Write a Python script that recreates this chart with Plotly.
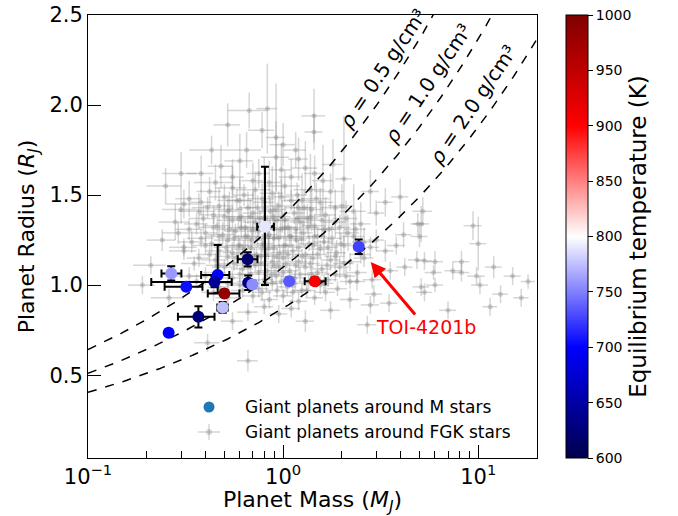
import numpy as np
import plotly.graph_objects as go

# ---------------- data ----------------
# Giant planets around M dwarfs (coloured by equilibrium temperature)
ms_mass = [0.267, 0.319, 0.462, 0.445, 0.50, 0.49, 0.368, 0.259, 0.658, 0.662, 0.696, 0.807, 1.074, 1.452, 2.44]
ms_radius = [1.065, 0.991, 1.056, 1.018, 0.954, 0.876, 0.824, 0.735, 1.143, 1.013, 1.004, 1.324, 1.022, 1.022, 1.213]
ms_mass_lo = [0.029, 0.072, 0.082, 0.234, 0.089, 0.03, 0.079, 0.01, 0.073, 0.02, 0.02, 0.071, 0.03, 0.162, 0.05]
ms_mass_hi = [0.034, 0.067, 0.068, 0.10, 0.097, 0.03, 0.077, 0.01, 0.081, 0.02, 0.02, 0.09, 0.03, 0.198, 0.05]
ms_radius_lo = [0.04, 0.02, 0.10, 0.03, 0.02, 0.03, 0.059, 0.01, 0.04, 0.04, 0.02, 0.324, 0.02, 0.02, 0.04]
ms_radius_hi = [0.04, 0.02, 0.167, 0.03, 0.02, 0.03, 0.059, 0.01, 0.04, 0.04, 0.02, 0.333, 0.02, 0.02, 0.04]
ms_teq = [760, 705, 700, 640, 985, 775, 625, 700, 620, 630, 755, 790, 735, 905, 725]

# Giant planets around FGK stars
fgk_mass = [
    0.42, 0.55, 0.63, 0.72, 0.88, 1.02, 1.18, 1.38, 1.75,
    0.38, 0.47, 0.58, 0.66, 0.80, 0.95, 1.10, 1.28, 1.55, 2.0,
    0.44, 0.52, 0.61, 0.70, 0.76, 0.86, 0.99, 1.14, 1.33, 1.65, 2.3,
    0.36, 0.46, 0.55, 0.64, 0.72, 0.83, 0.93, 1.06, 1.22, 1.45, 1.85, 2.5,
    0.40, 0.49, 0.57, 0.66, 0.75, 0.85, 0.97, 1.10, 1.27, 1.50, 1.72, 2.15,
    0.34, 0.43, 0.52, 0.60, 0.69, 0.79, 0.90, 1.03, 1.17, 1.36, 1.62, 1.98, 2.6,
    0.47, 0.55, 0.63, 0.73, 0.84, 0.96, 1.12, 1.30, 1.55, 1.88,
    0.37, 0.45, 0.58, 0.67, 0.77, 0.88, 1.00, 1.20, 1.42, 1.75, 2.2,
    0.50, 0.62, 0.72, 0.83, 0.95, 1.08, 1.30, 1.58, 1.95,
    0.40, 0.55, 0.68, 0.80, 0.92, 1.15, 1.40, 1.70, 2.1,
    0.47, 0.60, 0.75, 0.88, 1.05, 1.25, 1.55, 1.90,
    0.52, 0.70, 0.85, 1.00, 1.20, 1.45, 2.2,
    0.66, 0.95, 1.30, 0.80, 1.10, 1.75, 0.41, 0.66, 2.7, 0.55,
    0.83, 0.67, 0.52, 1.44, 1.44, 0.43, 0.65, 0.92, 1.16, 2.05, 0.45,
    0.60, 0.92, 1.30, 1.10, 0.75, 0.55, 0.85, 1.60, 0.38, 1.0, 0.78,
    3.98, 5.2, 5.1, 3.34, 3.0, 2.8,
    0.31, 0.37, 0.29, 0.31, 0.21, 0.24, 0.19, 0.26, 0.28, 0.33, 0.25, 0.30,
    9.4, 10.0, 8.2, 8.2, 7.4, 9.8, 10.2, 6.0, 4.85, 5.3, 5.9, 6.0,
    5.1, 5.3, 7.0, 4.14, 5.0, 4.9, 4.2, 3.54, 3.34, 2.86, 2.92, 3.49,
    2.39, 2.8, 16.6, 13.0, 12.0, 15.0, 18.0, 11.5, 3.0, 3.8, 2.6,
    0.33, 0.50, 0.60, 0.78, 0.98, 1.25, 1.48,
    0.30, 0.41, 0.53, 0.74, 0.91, 1.20, 1.40, 1.85,
    0.39, 0.50, 0.59, 0.68, 0.80, 0.89, 1.02, 1.18, 1.38, 1.58, 2.1,
    0.33, 0.44, 0.53, 0.61, 0.70, 0.80, 0.90, 1.02, 1.16, 1.35, 1.62, 1.95, 2.35,
    0.38, 0.47, 0.56, 0.64, 0.74, 0.84, 0.95, 1.08, 1.24, 1.45, 1.78, 2.3,
    0.31, 0.40, 0.51, 0.59, 0.68, 0.78, 0.89, 1.01, 1.20, 1.42, 1.70, 2.05, 2.8,
    0.42, 0.52, 0.62, 0.71, 0.82, 0.93, 1.06, 1.25, 1.50, 1.85, 2.5,
    0.35, 0.47, 0.56, 0.66, 0.77, 0.90, 1.03, 1.16, 1.38, 1.68, 2.05,
    0.45, 0.60, 0.75, 0.87, 1.00, 1.22, 1.50, 1.85, 2.4,
    0.36, 0.52, 0.66, 0.82, 0.98, 1.15, 1.35, 1.62, 2.2,
    0.44, 0.62, 0.78, 0.93, 1.12, 1.32, 1.65,
    0.48, 0.70, 0.98, 1.20, 1.45, 1.80,
]
fgk_radius = [
    1.52, 1.54, 1.50, 1.53, 1.51, 1.55, 1.50, 1.53, 1.52,
    1.46, 1.44, 1.47, 1.43, 1.46, 1.44, 1.47, 1.43, 1.46, 1.44,
    1.39, 1.41, 1.38, 1.40, 1.37, 1.41, 1.38, 1.40, 1.37, 1.39, 1.41,
    1.34, 1.33, 1.36, 1.32, 1.35, 1.33, 1.36, 1.32, 1.35, 1.33, 1.35, 1.34,
    1.29, 1.28, 1.30, 1.27, 1.30, 1.28, 1.31, 1.27, 1.29, 1.27, 1.31, 1.29,
    1.24, 1.23, 1.25, 1.22, 1.25, 1.23, 1.26, 1.22, 1.25, 1.23, 1.24, 1.23, 1.24,
    1.19, 1.18, 1.20, 1.17, 1.20, 1.18, 1.19, 1.17, 1.20, 1.18,
    1.15, 1.14, 1.15, 1.13, 1.16, 1.13, 1.15, 1.13, 1.15, 1.14, 1.13,
    1.10, 1.09, 1.11, 1.08, 1.10, 1.08, 1.10, 1.09, 1.10,
    1.05, 1.04, 1.06, 1.03, 1.05, 1.04, 1.06, 1.03, 1.05,
    0.99, 1.00, 0.98, 1.01, 0.99, 0.97, 1.00, 0.98,
    0.93, 0.94, 0.92, 0.94, 0.91, 0.93, 0.92,
    0.85, 0.84, 0.80, 0.88, 0.87, 0.86, 0.68, 0.58, 0.78, 0.80,
    1.98, 1.97, 1.89, 1.94, 1.85, 1.75, 1.75, 1.82, 1.75, 1.59, 1.57,
    1.69, 1.71, 1.65, 1.60, 1.62, 1.60, 1.57, 1.58, 1.62, 1.78, 1.86,
    1.49, 1.41, 1.34, 1.46, 1.40, 1.52,
    1.45, 1.41, 1.29, 1.19, 1.11, 1.25, 1.00, 0.93, 1.35, 1.05, 1.55, 1.62,
    1.33, 1.23, 1.13, 1.07, 1.08, 1.05, 1.00, 1.13, 1.14, 1.135, 1.07, 1.00,
    0.99, 0.96, 0.86, 1.28, 1.27, 1.34, 1.10, 1.08, 1.19, 1.03, 0.95, 0.90,
    1.02, 0.89, 0.93, 0.95, 1.10, 1.05, 1.02, 0.88, 1.25, 1.22, 1.15,
    1.48, 1.49, 1.47, 1.48, 1.49, 1.47, 1.48,
    1.42, 1.43, 1.42, 1.43, 1.42, 1.43, 1.42, 1.43,
    1.37, 1.38, 1.37, 1.38, 1.37, 1.38, 1.36, 1.37, 1.38, 1.36, 1.37,
    1.31, 1.32, 1.31, 1.32, 1.31, 1.32, 1.31, 1.32, 1.31, 1.32, 1.31, 1.32, 1.31,
    1.26, 1.27, 1.26, 1.27, 1.26, 1.27, 1.26, 1.27, 1.26, 1.27, 1.26, 1.27,
    1.21, 1.22, 1.21, 1.22, 1.21, 1.22, 1.21, 1.22, 1.21, 1.22, 1.21, 1.22, 1.21,
    1.17, 1.16, 1.17, 1.16, 1.17, 1.16, 1.17, 1.16, 1.17, 1.16, 1.17,
    1.12, 1.11, 1.12, 1.11, 1.12, 1.11, 1.12, 1.11, 1.12, 1.11, 1.12,
    1.07, 1.06, 1.07, 1.06, 1.07, 1.06, 1.07, 1.06, 1.07,
    1.02, 1.01, 1.02, 1.01, 1.02, 1.01, 1.02, 1.01, 1.02,
    0.96, 0.97, 0.96, 0.97, 0.96, 0.97, 0.96,
    1.66, 1.58, 1.64, 1.70, 1.62, 1.67,
]
fgk_mass_err = [
    0.06, 0.10, 0.08, 0.15, 0.12, 0.20, 0.15, 0.25, 0.30,
    0.05, 0.08, 0.12, 0.07, 0.10, 0.18, 0.12, 0.20, 0.25, 0.30,
    0.07, 0.06, 0.10, 0.08, 0.09, 0.12, 0.10, 0.15, 0.18, 0.22, 0.35,
    0.05, 0.07, 0.09, 0.06, 0.10, 0.08, 0.12, 0.10, 0.14, 0.20, 0.25, 0.30,
    0.06, 0.08, 0.07, 0.09, 0.10, 0.08, 0.11, 0.13, 0.15, 0.18, 0.22, 0.30,
    0.05, 0.06, 0.08, 0.07, 0.09, 0.10, 0.08, 0.12, 0.14, 0.16, 0.20, 0.25, 0.35,
    0.07, 0.06, 0.09, 0.08, 0.10, 0.11, 0.13, 0.15, 0.18, 0.22,
    0.05, 0.07, 0.08, 0.07, 0.09, 0.10, 0.12, 0.13, 0.16, 0.20, 0.28,
    0.07, 0.08, 0.09, 0.10, 0.11, 0.12, 0.14, 0.18, 0.22,
    0.06, 0.07, 0.08, 0.09, 0.10, 0.12, 0.15, 0.20, 0.25,
    0.06, 0.08, 0.09, 0.10, 0.12, 0.14, 0.17, 0.22,
    0.07, 0.08, 0.09, 0.11, 0.13, 0.15, 0.25,
    0.08, 0.10, 0.14, 0.09, 0.12, 0.20, 0.06, 0.08, 0.30, 0.07,
    0.10, 0.15, 0.08, 0.20, 0.15, 0.10, 0.12, 0.10, 0.15, 0.20, 0.10,
    0.10, 0.15, 0.20, 0.15, 0.10, 0.08, 0.12, 0.20, 0.06, 0.15, 0.12,
    0.4, 0.6, 0.5, 0.3, 0.3, 0.3,
    0.06, 0.08, 0.05, 0.05, 0.04, 0.04, 0.03, 0.05, 0.05, 0.05, 0.05, 0.06,
    1.0, 1.0, 0.8, 0.8, 0.7, 1.0, 1.0, 0.6, 0.5, 0.5, 0.6, 0.6,
    0.5, 0.5, 0.7, 0.4, 0.5, 0.4, 0.4, 0.35, 0.35, 0.3, 0.3, 0.35,
    0.25, 0.3, 1.5, 1.2, 1.2, 1.5, 1.5, 1.0, 0.3, 0.4, 0.3,
    0.05, 0.08, 0.09, 0.12, 0.15, 0.20, 0.25,
    0.06, 0.07, 0.09, 0.11, 0.13, 0.18, 0.20, 0.30,
    0.06, 0.07, 0.08, 0.10, 0.11, 0.12, 0.14, 0.16, 0.18, 0.22, 0.30,
    0.05, 0.07, 0.08, 0.09, 0.10, 0.11, 0.12, 0.14, 0.15, 0.18, 0.22, 0.26, 0.30,
    0.06, 0.07, 0.08, 0.09, 0.10, 0.11, 0.12, 0.14, 0.16, 0.19, 0.23, 0.30,
    0.05, 0.06, 0.07, 0.08, 0.09, 0.10, 0.11, 0.12, 0.14, 0.17, 0.20, 0.25, 0.30,
    0.06, 0.07, 0.08, 0.09, 0.10, 0.12, 0.13, 0.15, 0.18, 0.22, 0.30,
    0.05, 0.07, 0.08, 0.09, 0.10, 0.11, 0.12, 0.14, 0.16, 0.20, 0.25,
    0.06, 0.08, 0.09, 0.10, 0.12, 0.14, 0.17, 0.22, 0.28,
    0.05, 0.07, 0.08, 0.10, 0.11, 0.13, 0.15, 0.19, 0.25,
    0.06, 0.08, 0.09, 0.11, 0.13, 0.15, 0.19,
    0.07, 0.09, 0.12, 0.14, 0.17, 0.22,
]
fgk_radius_err = [
    0.08, 0.12, 0.06, 0.10, 0.15, 0.09, 0.07, 0.20, 0.10,
    0.07, 0.10, 0.06, 0.09, 0.25, 0.08, 0.06, 0.10, 0.08, 0.12,
    0.05, 0.09, 0.06, 0.12, 0.05, 0.07, 0.09, 0.06, 0.08, 0.10, 0.15,
    0.06, 0.05, 0.08, 0.05, 0.07, 0.06, 0.10, 0.05, 0.07, 0.06, 0.09, 0.12,
    0.05, 0.07, 0.04, 0.06, 0.05, 0.08, 0.05, 0.06, 0.07, 0.05, 0.08, 0.10,
    0.06, 0.05, 0.07, 0.04, 0.06, 0.05, 0.08, 0.05, 0.06, 0.04, 0.07, 0.06, 0.08,
    0.04, 0.06, 0.05, 0.04, 0.06, 0.05, 0.04, 0.06, 0.05, 0.07,
    0.05, 0.04, 0.06, 0.04, 0.05, 0.04, 0.06, 0.05, 0.04, 0.06, 0.05,
    0.04, 0.05, 0.04, 0.04, 0.05, 0.04, 0.05, 0.04, 0.06,
    0.05, 0.04, 0.05, 0.04, 0.05, 0.04, 0.05, 0.04, 0.05,
    0.05, 0.04, 0.05, 0.04, 0.05, 0.04, 0.05, 0.04,
    0.05, 0.04, 0.05, 0.04, 0.05, 0.04, 0.05,
    0.05, 0.05, 0.06, 0.04, 0.05, 0.05, 0.05, 0.06, 0.05, 0.05,
    0.25, 0.10, 0.12, 0.15, 0.10, 0.08, 0.10, 0.30, 0.10, 0.35, 0.10,
    0.15, 0.20, 0.15, 0.10, 0.08, 0.10, 0.12, 0.20, 0.10, 0.12, 0.10,
    0.10, 0.08, 0.10, 0.08, 0.07, 0.12,
    0.08, 0.10, 0.06, 0.05, 0.05, 0.06, 0.05, 0.05, 0.10, 0.05, 0.10, 0.12,
    0.08, 0.15, 0.06, 0.05, 0.05, 0.05, 0.05, 0.06, 0.05, 0.05, 0.04, 0.04,
    0.05, 0.05, 0.05, 0.07, 0.06, 0.06, 0.05, 0.05, 0.06, 0.05, 0.05, 0.05,
    0.05, 0.05, 0.05, 0.05, 0.06, 0.05, 0.04, 0.05, 0.06, 0.05, 0.05,
    0.10, 0.07, 0.12, 0.08, 0.10, 0.15, 0.09,
    0.08, 0.06, 0.10, 0.07, 0.09, 0.08, 0.12, 0.10,
    0.07, 0.08, 0.06, 0.09, 0.07, 0.06, 0.08, 0.07, 0.06, 0.09, 0.10,
    0.06, 0.05, 0.07, 0.06, 0.05, 0.07, 0.06, 0.05, 0.07, 0.06, 0.08, 0.07, 0.09,
    0.05, 0.06, 0.05, 0.06, 0.05, 0.06, 0.05, 0.06, 0.05, 0.06, 0.07, 0.08,
    0.05, 0.05, 0.04, 0.06, 0.05, 0.04, 0.06, 0.05, 0.04, 0.05, 0.06, 0.05, 0.06,
    0.05, 0.04, 0.06, 0.05, 0.04, 0.05, 0.06, 0.04, 0.05, 0.06, 0.05,
    0.04, 0.05, 0.04, 0.05, 0.04, 0.06, 0.04, 0.05, 0.04, 0.05, 0.06,
    0.05, 0.04, 0.05, 0.04, 0.05, 0.04, 0.05, 0.04, 0.05,
    0.04, 0.05, 0.04, 0.05, 0.04, 0.05, 0.04, 0.05, 0.04,
    0.05, 0.04, 0.05, 0.04, 0.05, 0.04, 0.05,
    0.12, 0.10, 0.15, 0.12, 0.10, 0.14,
]

# iso-density curves
rho_values = [0.5, 1.0, 2.0]
rho_labels = ["<i>ρ</i> = 0.5 g/cm³", "<i>ρ</i> = 1.0 g/cm³", "<i>ρ</i> = 2.0 g/cm³"]
rho_label_mass = [3.35, 5.75, 9.7]
rho_label_radius = [2.19, 2.11, 1.99]
RHO_JUP = 1.326  # g/cm^3

colorbar_ticks = [600, 650, 700, 750, 800, 850, 900, 950, 1000]

FONT = "DejaVu Sans"
GREY = "rgba(128,128,128,0.32)"

seismic = [[0.0, "rgb(0,0,77)"], [0.25, "rgb(0,0,255)"], [0.5, "rgb(255,255,255)"],
           [0.75, "rgb(255,0,0)"], [1.0, "rgb(128,0,0)"]]

PL, PR, PT, PB = 88, 537, 15, 458  # target plot-area pixel box
W, H = 678, 516
PW, PH = PR - PL, PB - PT

fig = go.Figure()

# FGK background
fig.add_trace(go.Scatter(
    x=fgk_mass, y=fgk_radius, mode="markers",
    marker=dict(size=5, color=GREY),
    error_x=dict(type="data", array=fgk_mass_err, color=GREY, thickness=1.5, width=0),
    error_y=dict(type="data", array=fgk_radius_err, color=GREY, thickness=1.5, width=0),
    showlegend=False, hoverinfo="skip"))

# density curves
mgrid = np.logspace(-1, np.log10(20), 300)
for rho in rho_values:
    fig.add_trace(go.Scatter(
        x=mgrid, y=(mgrid * RHO_JUP / rho) ** (1.0 / 3.0), mode="lines",
        line=dict(color="black", width=1.5, dash="dash"),
        showlegend=False, hoverinfo="skip"))

# M-dwarf planets
fig.add_trace(go.Scatter(
    x=ms_mass, y=ms_radius, mode="markers",
    marker=dict(size=12, color=ms_teq, colorscale=seismic, cmin=600, cmax=1000,
                line=dict(width=0), showscale=True,
                colorbar=dict(x=(566 - PL) / PW, xanchor="left", xpad=0, ypad=0,
                              y=0.5, len=1, lenmode="fraction", thickness=22,
                              outlinewidth=1, outlinecolor="black",
                              tickvals=colorbar_ticks, ticks="outside", ticklen=5,
                              tickcolor="black", ticklabeloverflow="allow",
                              tickfont=dict(family=FONT, size=14, color="black"),
                              title=dict(text="Equilibrium temperature (K)", side="right",
                                         font=dict(family=FONT, size=23, color="black")))),
    error_x=dict(type="data", symmetric=False, array=ms_mass_hi, arrayminus=ms_mass_lo,
                 color="black", thickness=2, width=4),
    error_y=dict(type="data", symmetric=False, array=ms_radius_hi, arrayminus=ms_radius_lo,
                 color="black", thickness=2, width=4),
    showlegend=False, hoverinfo="skip"))

annotations = []
for lab, lm, lr in zip(rho_labels, rho_label_mass, rho_label_radius):
    annotations.append(dict(x=np.log10(lm), y=lr, xref="x", yref="y", text=lab,
                            showarrow=False, textangle=-56, xshift=-3, yshift=2,
                            font=dict(family=FONT, size=20, color="black")))

# TOI-4201b label with arrow
annotations.append(dict(x=np.log10(2.81), y=1.128, xref="x", yref="y", text="TOI-4201b",
                        showarrow=True, ax=55, ay=65, arrowcolor="red", arrowwidth=3,
                        arrowhead=2, arrowsize=1,
                        font=dict(family=FONT, size=19, color="red")))


# manual legend
def px2paper(px, py):
    return (px - PL) / PW, (PB - py) / PH


lx, ly1 = px2paper(243, 407)
_, ly2 = px2paper(243, 432)
annotations.append(dict(x=lx, y=ly1, xref="paper", yref="paper", xanchor="left", yanchor="middle",
                        text="Giant planets around M stars", showarrow=False,
                        font=dict(family=FONT, size=17, color="black")))
annotations.append(dict(x=lx, y=ly2, xref="paper", yref="paper", xanchor="left", yanchor="middle",
                        text="Giant planets around FGK stars", showarrow=False,
                        font=dict(family=FONT, size=17, color="black")))

shapes = []
cx, cy = px2paper(209, 407)
shapes.append(dict(type="circle", xref="paper", yref="paper",
                   x0=cx - 5.5 / PW, x1=cx + 5.5 / PW, y0=cy - 5.5 / PH, y1=cy + 5.5 / PH,
                   fillcolor="#1f77b4", line=dict(width=0)))
gx, gy = px2paper(209, 432)
shapes.append(dict(type="line", xref="paper", yref="paper", x0=gx - 11 / PW, x1=gx + 11 / PW,
                   y0=gy, y1=gy, line=dict(color=GREY, width=1.5)))
shapes.append(dict(type="line", xref="paper", yref="paper", x0=gx, x1=gx,
                   y0=gy - 8 / PH, y1=gy + 8 / PH, line=dict(color=GREY, width=1.5)))
shapes.append(dict(type="circle", xref="paper", yref="paper",
                   x0=gx - 3 / PW, x1=gx + 3 / PW, y0=gy - 3 / PH, y1=gy + 3 / PH,
                   fillcolor=GREY, line=dict(width=0)))

minor_x = [v * 10.0 ** d for d in (-1, 0, 1) for v in range(2, 10) if v * 10.0 ** d <= 20]

fig.update_layout(
    width=W, height=H,
    margin=dict(l=PL, r=W - PR, t=PT, b=H - PB, autoexpand=False),
    paper_bgcolor="white", plot_bgcolor="white",
    font=dict(family=FONT, color="black"),
    annotations=annotations, shapes=shapes,
    xaxis=dict(type="log", range=[-1, np.log10(20)], showgrid=False, zeroline=False,
               showline=True, linecolor="black", linewidth=1, mirror=True,
               ticks="inside", ticklen=13, tickwidth=1, tickcolor="black",
               tickvals=[0.1, 1, 10], ticktext=["10<sup>−1</sup>", "10<sup>0</sup>", "10<sup>1</sup>"],
               tickfont=dict(family=FONT, size=21), ticklabeloverflow="allow",
               minor=dict(ticks="inside", ticklen=7, tickvals=minor_x, tickcolor="black", showgrid=False),
               automargin=False,
               title=dict(text="Planet Mass (<i>M<sub>J</sub></i>)", standoff=3,
                          font=dict(family=FONT, size=22))),
    yaxis=dict(range=[0.04, 2.5], showgrid=False, zeroline=False,
               showline=True, linecolor="black", linewidth=1, mirror=True,
               ticks="inside", ticklen=13, tickwidth=1, tickcolor="black",
               tickvals=[0.5, 1.0, 1.5, 2.0, 2.5], ticktext=["0.5", "1.0", "1.5", "2.0", "2.5"],
               tickfont=dict(family=FONT, size=21), ticklabeloverflow="allow",
               automargin=False,
               title=dict(text="Planet Radius (<i>R<sub>J</sub></i>)", standoff=8,
                          font=dict(family=FONT, size=22))),
)

# remove the browser's default page margin so the figure sits at the window origin
fig.write_html("out.html", config={"displayModeBar": False},
               post_script="document.body.style.margin='0px';")
